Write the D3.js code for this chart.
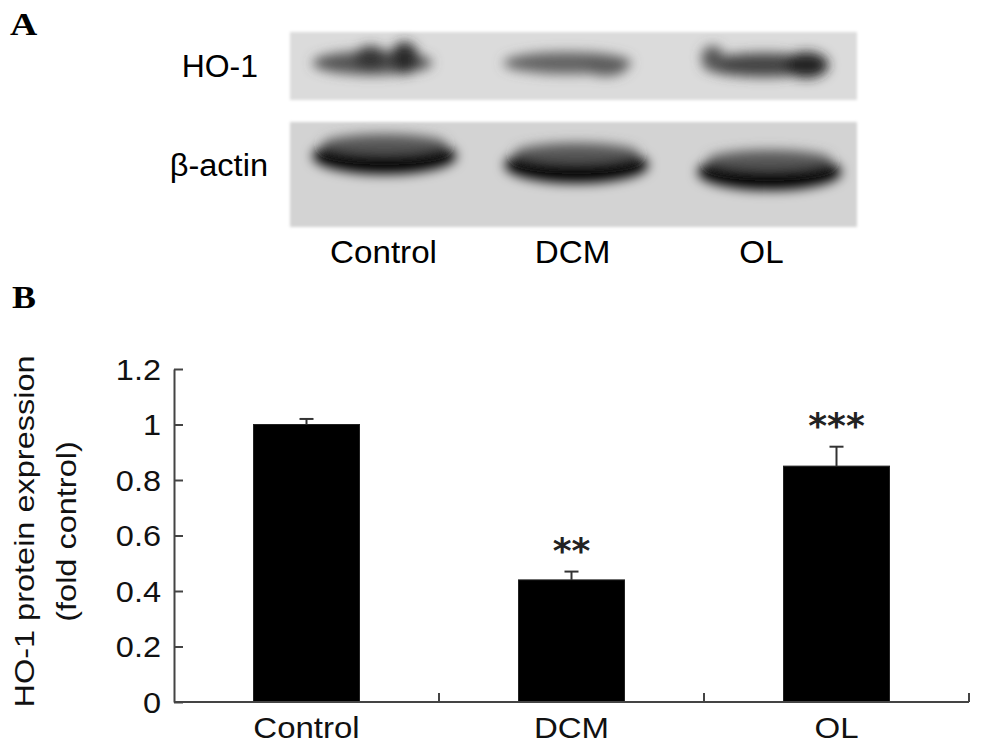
<!DOCTYPE html>
<html>
<head>
<meta charset="utf-8">
<script src="https://cdn.jsdelivr.net/npm/d3@7"></script>
<style>
  html, body { margin: 0; padding: 0; background: #fff; }
  svg { display: block; }
</style>
</head>
<body>
<script>
// ---------- data ----------
const categories = ["Control", "DCM", "OL"];
const means = [1.00, 0.44, 0.85];
const errors = [0.02, 0.03, 0.07];
const significance = ["", "**", "***"];
const yTicks = [0, 0.2, 0.4, 0.6, 0.8, 1, 1.2];
const yLabelLines = ["HO-1 protein expression", "(fold control)"];
const blotRows = ["HO-1", "β-actin"];
// relative band darkness per lane (0..1)
const hoDensity = [0.80, 0.50, 0.70];
const actinDensity = [1.0, 1.0, 1.0];

const W = 983, H = 753;
const svg = d3.select("body").append("svg").attr("width", W).attr("height", H);
const sans = "'Liberation Sans', Arial, Helvetica, sans-serif";
const serif = "'Liberation Serif', 'Times New Roman', serif";

function stretch(sel, k) {
  sel.each(function () {
    const L = this.getComputedTextLength();
    this.setAttribute("textLength", L * k);
    this.setAttribute("lengthAdjust", "spacingAndGlyphs");
  });
}

// ---------- panel letters ----------
svg.append("text").attr("x", 10).attr("y", 35).text("A")
  .attr("font-family", serif).attr("font-weight", "bold").attr("font-size", 32).call(stretch, 1.18);
svg.append("text").attr("x", 12).attr("y", 308).text("B")
  .attr("font-family", serif).attr("font-weight", "bold").attr("font-size", 32).call(stretch, 1.12);

// ---------- panel A : blot ----------
const defs = svg.append("defs");
defs.append("filter").attr("id", "blurBand").attr("x", "-50%").attr("y", "-100%")
  .attr("width", "200%").attr("height", "300%")
  .append("feGaussianBlur").attr("stdDeviation", 6);
defs.append("filter").attr("id", "blurEdge")
  .append("feGaussianBlur").attr("stdDeviation", 1.5);

const lane = d3.scaleBand().domain(categories).range([290, 857]);
const rowY = d3.scaleOrdinal().domain(blotRows).range([[32, 100], [122, 227]]);
const rowBg = d3.scaleOrdinal().domain(blotRows).range(["#dbdbdb", "#d3d3d3"]);

blotRows.forEach(r => {
  const [y0, y1] = rowY(r);
  svg.append("rect").attr("x", 290).attr("y", y0).attr("width", 567).attr("height", y1 - y0)
    .attr("fill", rowBg(r)).attr("filter", "url(#blurEdge)");
});

const grey = d => d3.interpolateRgb("#c0c0c0", "#050505")(d);

// HO-1 bands
const hoG = svg.append("g").attr("filter", "url(#blurBand)");
categories.forEach((c, i) => {
  const cx = lane(c) + lane.bandwidth() / 2;
  const d = hoDensity[i];
  if (i === 0) {
    hoG.append("ellipse").attr("cx", cx - 12).attr("cy", 63).attr("rx", 60).attr("ry", 12).attr("fill", grey(d * 0.72));
    hoG.append("ellipse").attr("cx", cx - 14).attr("cy", 58).attr("rx", 16).attr("ry", 12).attr("fill", grey(d * 0.92));
    hoG.append("ellipse").attr("cx", cx + 20).attr("cy", 58).attr("rx", 14).attr("ry", 16).attr("fill", grey(d));
  } else if (i === 1) {
    hoG.append("ellipse").attr("cx", cx - 6).attr("cy", 63).attr("rx", 64).attr("ry", 11).attr("fill", grey(d));
    hoG.append("ellipse").attr("cx", cx + 32).attr("cy", 66).attr("rx", 22).attr("ry", 10).attr("fill", grey(d * 1.08));
  } else {
    hoG.append("ellipse").attr("cx", cx + 2).attr("cy", 65).attr("rx", 62).attr("ry", 12).attr("fill", grey(d * 0.95));
    hoG.append("ellipse").attr("cx", cx + 44).attr("cy", 65).attr("rx", 22).attr("ry", 13).attr("fill", grey(Math.min(1, d * 1.2)));
    hoG.append("ellipse").attr("cx", cx - 50).attr("cy", 57).attr("rx", 11).attr("ry", 11).attr("fill", grey(d * 0.8));
  }
});

// beta-actin bands
const acG = svg.append("g").attr("filter", "url(#blurBand)");
const actinCy = [156, 165, 172];
const actinDx = [0, 3, 7];
categories.forEach((c, i) => {
  const cx = lane(c) + lane.bandwidth() / 2 + actinDx[i];
  acG.append("ellipse").attr("cx", cx).attr("cy", actinCy[i]).attr("rx", 72).attr("ry", 18)
    .attr("fill", grey(actinDensity[i]));
  acG.append("ellipse").attr("cx", cx).attr("cy", actinCy[i] - 12).attr("rx", 62).attr("ry", 10)
    .attr("fill", grey(actinDensity[i] * 0.55));
});

// blot labels
svg.append("text").attr("x", 258).attr("y", 77).attr("text-anchor", "end")
  .attr("font-family", sans).attr("font-size", 31).text(blotRows[0]).call(stretch, 1.03);
svg.append("text").attr("x", 268).attr("y", 176).attr("text-anchor", "end")
  .attr("font-family", sans).attr("font-size", 31).text(blotRows[1]).call(stretch, 1.05);
svg.selectAll("text.lane").data(categories).enter().append("text").attr("class", "lane")
  .attr("x", d => lane(d) + lane.bandwidth() / 2 - 1)
  .attr("y", 263).attr("text-anchor", "middle")
  .attr("font-family", sans).attr("font-size", 31).text(d => d).call(stretch, 1.07);

// ---------- panel B : bar chart ----------
const x = d3.scaleBand().domain(categories).range([174, 969]).paddingInner(0.6).paddingOuter(0.3);
const y = d3.scaleLinear().domain([0, 1.2]).range([702, 369]);
const axisColor = "#444";

// bars
svg.append("g").selectAll("rect").data(categories).enter().append("rect")
  .attr("x", d => x(d)).attr("width", x.bandwidth())
  .attr("y", (d, i) => y(means[i])).attr("height", (d, i) => y(0) - y(means[i]))
  .attr("fill", "#000").attr("stroke", "#222").attr("stroke-width", 1);

// error bars (upper only)
const eb = svg.append("g").attr("stroke", "#333").attr("stroke-width", 2);
categories.forEach((c, i) => {
  const cx = x(c) + x.bandwidth() / 2;
  eb.append("line").attr("x1", cx).attr("x2", cx).attr("y1", y(means[i])).attr("y2", y(means[i] + errors[i]));
  eb.append("line").attr("x1", cx - 7).attr("x2", cx + 7).attr("y1", y(means[i] + errors[i])).attr("y2", y(means[i] + errors[i]));
});

// significance stars
svg.append("g").selectAll("text").data(categories).enter().append("text")
  .attr("x", d => x(d) + x.bandwidth() / 2)
  .attr("y", (d, i) => y(means[i] + errors[i]) - 9)
  .attr("text-anchor", "middle")
  .attr("font-family", "'DejaVu Sans', sans-serif").attr("font-weight", "bold").attr("font-size", 36)
  .attr("letter-spacing", 0).attr("fill", "#222")
  .text((d, i) => significance[i]);

// y axis
const yAxis = d3.axisLeft(y).tickValues(yTicks).tickFormat(d => String(d))
  .tickSizeInner(-9).tickSizeOuter(0).tickPadding(13);
const gy = svg.append("g").attr("transform", "translate(174,0)").call(yAxis);
gy.select(".domain").attr("stroke", axisColor).attr("stroke-width", 2);
gy.selectAll(".tick line").attr("stroke", axisColor).attr("stroke-width", 2);
gy.selectAll(".tick text").attr("font-family", sans).attr("font-size", 29).attr("fill", "#111")
  .attr("dy", "0.36em").call(stretch, 1.12);

// x axis: labels at band centres, ticks at band boundaries
const xAxis = d3.axisBottom(x).tickSize(0).tickPadding(15);
const gx = svg.append("g").attr("transform", "translate(0,702)").call(xAxis);
gx.select(".domain").remove();
gx.append("line").attr("x1", 174).attr("x2", 969).attr("y1", 0).attr("y2", 0)
  .attr("stroke", axisColor).attr("stroke-width", 2);
gx.selectAll(".bound").data(categories).enter().append("line").attr("class", "bound")
  .attr("x1", d => x(d) + x.bandwidth() + x.step() * x.paddingInner() / 2)
  .attr("x2", d => x(d) + x.bandwidth() + x.step() * x.paddingInner() / 2)
  .attr("y1", 0).attr("y2", -9).attr("stroke", axisColor).attr("stroke-width", 2);
gx.selectAll(".tick text").attr("font-family", sans).attr("font-size", 30).attr("fill", "#111")
  .call(stretch, 1.1);

// y-axis title (two lines, rotated)
const yMid = (y(0) + y(1.2)) / 2 - 4;
svg.selectAll("text.ytitle").data(yLabelLines).enter().append("text").attr("class", "ytitle")
  .attr("transform", (d, i) => `translate(${i === 0 ? 34 : 76},${yMid}) rotate(-90)`)
  .attr("text-anchor", "middle")
  .attr("font-family", sans).attr("font-size", 28).attr("fill", "#111")
  .text(d => d).call(stretch, 1.16);
</script>
</body>
</html>
